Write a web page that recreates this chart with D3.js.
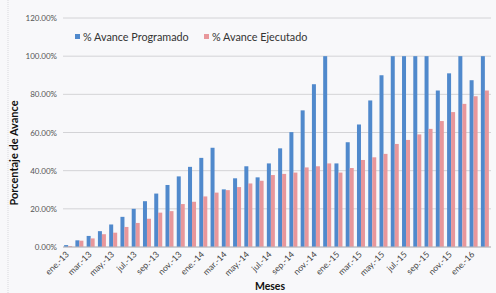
<!DOCTYPE html>
<html>
<head>
<meta charset="utf-8">
<script src="https://cdn.jsdelivr.net/npm/d3@7"></script>
<style>
  body { margin: 0; background: #fff; }
  svg { display: block; font-family: Lato, 'Open Sans', sans-serif; }
</style>
</head>
<body>
<svg id="chart" width="496" height="293"></svg>
<script>
const monthNames = ['ene', 'feb', 'mar', 'abr', 'may', 'jun', 'jul', 'ago', 'sep', 'oct', 'nov', 'dic'];
const years = ['13', '14', '15', '16'];
// ene-13 .. feb-16
const months = [];
for (const y of years) for (const m of monthNames) months.push(`${m}.-${y}`);
months.length = 38;

const programado = [1, 3.5, 5.8, 8.3, 11.8, 15.8, 20, 24, 28, 32.5, 37, 42, 46.7, 52,
  30.2, 36, 42.3, 36.5, 43.8, 51.7, 60.2, 71.6, 85.3, 100,
  43.8, 54.9, 64.2, 76.8, 90, 100, 100, 100, 100, 82, 91, 100, 87.4, 100];
const ejecutado = [0.5, 3.3, 4.5, 6.7, 7.5, 10.5, 12.6, 14.8, 18, 18.8, 22.5, 23.7, 26.5, 28.5,
  29.8, 31.4, 33.3, 34.7, 37.7, 38.3, 39, 41.7, 42.3, 43.8,
  39, 41.4, 45.6, 47, 48.8, 54, 56.1, 59, 61.9, 66, 70.7, 75, 79, 82];
const yTicks = [0, 20, 40, 60, 80, 100, 120];
const seriesNames = ['% Avance Programado', '% Avance Ejecutado'];
const colors = ['#5089cc', '#e8979b'];

const svg = d3.select('#chart');
const margin = { top: 18, right: 5, bottom: 47, left: 63 };
const width = 496, height = 293;

svg.append('rect').attr('width', width).attr('height', height).attr('fill', '#f8f8fa');
svg.append('line').attr('x1', 8).attr('x2', 8).attr('y1', 0).attr('y2', height)
  .attr('stroke', '#d8d8dc').attr('stroke-dasharray', '1,1');

const x = d3.scaleBand().domain(months).range([margin.left, width - margin.right]);
const y = d3.scaleLinear().domain([0, 120]).range([height - margin.bottom + 1, margin.top]);

// gridlines
svg.append('g')
  .selectAll('line')
  .data(yTicks)
  .join('line')
  .attr('x1', margin.left).attr('x2', width - margin.right)
  .attr('y1', (d) => y(d)).attr('y2', (d) => y(d))
  .attr('stroke', '#c9c9cd').attr('stroke-width', 0.8);

// y axis labels
svg.append('g')
  .selectAll('text')
  .data(yTicks)
  .join('text')
  .attr('x', margin.left - 6)
  .attr('y', (d) => y(d) + 3)
  .attr('text-anchor', 'end')
  .attr('font-size', 8)
  .attr('fill', '#555')
  .text((d) => `${d.toFixed(2)}%`);

// bars
const bw = 4;
const series = [programado, ejecutado];
series.forEach((vals, si) => {
  svg.append('g')
    .selectAll('rect')
    .data(vals)
    .join('rect')
    .attr('x', (d, i) => x(months[i]) + x.bandwidth() / 2 - bw + si * bw - 0.5)
    .attr('y', (d) => y(d))
    .attr('width', bw)
    .attr('height', (d) => y(0) - y(d))
    .attr('fill', colors[si]);
});

// x axis line
svg.append('line')
  .attr('x1', margin.left).attr('x2', width - margin.right)
  .attr('y1', y(0)).attr('y2', y(0))
  .attr('stroke', '#b8b8bc');

// x labels, every other month
svg.append('g')
  .selectAll('text')
  .data(months.filter((d, i) => i % 2 === 0))
  .join('text')
  .attr('transform', (d) => `translate(${x(d) + x.bandwidth() / 2 + 1},${y(0) + 8}) rotate(-45)`)
  .attr('text-anchor', 'end')
  .attr('font-size', 8.6)
  .attr('fill', '#444')
  .text((d) => d);

// axis titles
svg.append('text')
  .attr('transform', 'translate(18,153) rotate(-90)')
  .attr('text-anchor', 'middle')
  .attr('font-size', 11)
  .attr('font-weight', 'bold')
  .attr('fill', '#111')
  .text('Porcentaje de Avance');

svg.append('text')
  .attr('x', 270).attr('y', 290)
  .attr('text-anchor', 'middle')
  .attr('font-size', 10.5)
  .attr('font-weight', 'bold')
  .attr('fill', '#111')
  .text('Meses');

// legend
const legendX = [75, 204];
const legend = svg.append('g')
  .selectAll('g')
  .data(seriesNames)
  .join('g')
  .attr('transform', (d, i) => `translate(${legendX[i]},37)`);
legend.append('rect').attr('x', 0).attr('y', -3).attr('width', 5).attr('height', 5)
  .attr('fill', (d, i) => colors[i]);
legend.append('text').attr('x', 8).attr('y', 3.5)
  .attr('font-size', 10.8).attr('fill', '#333')
  .text((d) => d);
</script>
</body>
</html>
